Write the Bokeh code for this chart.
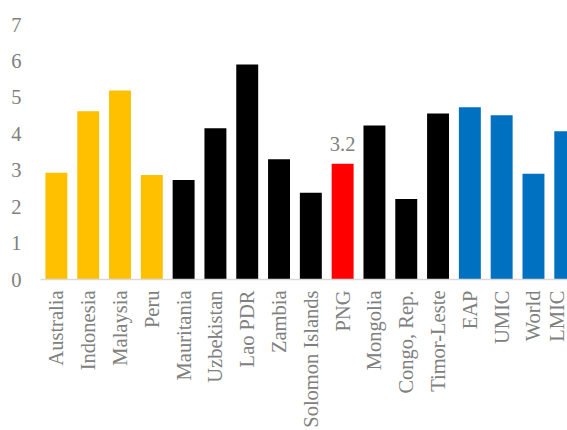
import numpy as np
from bokeh.plotting import figure
from bokeh.models import ColumnDataSource, Range1d, FixedTicker
from bokeh.transform import factor_cmap
from bokeh.embed import file_html
from bokeh.resources import INLINE
from bokeh.core.properties import value

# ---- data ----
countries = ["Australia", "Indonesia", "Malaysia", "Peru", "Mauritania", "Uzbekistan",
             "Lao PDR", "Zambia", "Solomon Islands", "PNG", "Mongolia", "Congo, Rep.",
             "Timor-Leste", "EAP", "UMIC", "World", "LMIC"]
values = [2.93, 4.62, 5.19, 2.87, 2.73, 4.15, 5.90, 3.30, 2.38, 3.18, 4.23, 2.21,
          4.56, 4.73, 4.51, 2.90, 4.07]
groups = ["Comparator", "Comparator", "Comparator", "Comparator", "Peer", "Peer",
          "Peer", "Peer", "Peer", "PNG", "Peer", "Peer",
          "Peer", "Aggregate", "Aggregate", "Aggregate", "Aggregate"]
y_ticks = [0, 1, 2, 3, 4, 5, 6, 7]
highlight = "PNG"

group_names = ["Comparator", "Peer", "PNG", "Aggregate"]
group_colors = ["#FFC000", "#000000", "#FF0000", "#0070C0"]

FONT = "'Liberation Serif'"
GRAY = "#808080"
FS = "20.5px"

xs = list(range(len(countries)))
src = ColumnDataSource(dict(x=xs, top=values, group=groups, name=countries))

p = figure(width=567, height=430, output_backend="svg", toolbar_location=None,
           x_range=Range1d(-0.5, 16.07), y_range=Range1d(0, 7),
           min_border_left=40, min_border_right=0, min_border_top=24,
           min_border_bottom=0)

p.vbar(x="x", top="top", width=0.69, source=src, line_color=None,
       fill_color=factor_cmap("group", palette=group_colors, factors=group_names))

hi = countries.index(highlight)
lbl = ColumnDataSource(dict(x=[hi], y=[values[hi]], t=[f"{values[hi]:.1f}"]))
p.text(x="x", y="y", text="t", source=lbl, text_align="center", text_baseline="bottom",
       y_offset=-13, text_font=value(FONT), text_font_size=FS, text_color=GRAY)

p.xgrid.visible = False
p.ygrid.visible = False
p.outline_line_color = None

xa = p.xaxis[0]
xa.ticker = FixedTicker(ticks=xs)
xa.major_label_overrides = {i: c for i, c in enumerate(countries)}
xa.major_label_orientation = np.pi / 2
xa.major_tick_line_color = None
xa.minor_tick_line_color = None
xa.major_tick_out = 0
xa.major_tick_in = 0
xa.major_label_standoff = 11
xa.axis_line_color = "#D9D9D9"
xa.axis_line_width = 1.5
xa.major_label_text_font = FONT
xa.major_label_text_font_size = FS
xa.major_label_text_color = GRAY

ya = p.yaxis[0]
ya.ticker = FixedTicker(ticks=y_ticks)
ya.axis_line_color = None
ya.major_tick_line_color = None
ya.minor_tick_line_color = None
ya.major_tick_out = 0
ya.major_tick_in = 0
ya.major_label_standoff = 19
ya.major_label_text_font = FONT
ya.major_label_text_font_size = FS
ya.major_label_text_color = GRAY

open("out.html", "w").write(file_html(p, INLINE))
